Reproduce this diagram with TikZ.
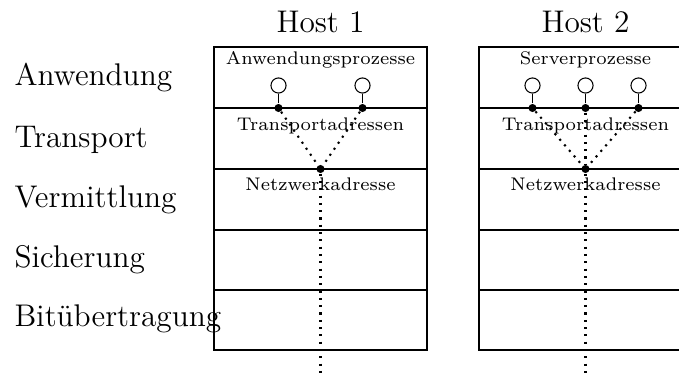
\documentclass[tikz,border=0pt]{standalone}
\begin{document}
\begin{tikzpicture}[x=0.383pt, y=-0.383pt, font=\large,
    proc/.style={circle, draw, fill=white, minimum size=5.8pt, inner sep=0pt},
    addr/.style={circle, fill, minimum size=3.1pt, inner sep=0pt},
    small/.style={font=\scriptsize, anchor=base, inner sep=0pt},
    link/.style={thick, dotted}]
  \useasboundingbox (0,0) rectangle (679,378);

  % Schichten links
  \foreach \name/\y/\id in {Anwendung/85.7/anw, Transport/147.7/tra, Vermittlung/207.5/ver,
                            Sicherung/267.3/sic, Bitübertragung/326.7/bit} {
    \node[anchor=base west, inner sep=0pt] (\id) at (14,\y) {\name};
  }

  % Hosts mit Schichtkasten
  \foreach \h/\xl/\proc in {1/214/Anwendungsprozesse, 2/479/Serverprozesse} {
    \pgfmathsetmacro\xc{\xl+106.5}
    \draw (\xl,47) rectangle ++(213,303);
    \foreach \y in {108,169,230,290}
      \draw (\xl,\y) -- ++(213,0);
    \node[anchor=base] (host\h) at (\xc,33) {Host \h};
    \node[small] (pl\h) at (\xc,65) {\proc};
    \node[small] (tl\h) at (\xc,130.7) {Transportadressen};
    \node[small] (nl\h) at (\xc,190.7) {Netzwerkadresse};
    % Netzwerkadresse und Weg nach unten
    \node[addr] (net\h) at (\xc,169) {};
    \coordinate (end\h) at (\xc,378);
    \draw[link] (net\h) -- (end\h);
  }

  % Prozesse und Transportadressen
  \foreach \h/\p/\x in {1/a/278.5, 1/b/362.5, 2/a/532.5, 2/b/585.5, 2/c/638.5} {
    \node[proc] (p\h\p) at (\x,85.5) {};
    \node[addr] (t\h\p) at (\x,108) {};
    \draw (p\h\p) -- (t\h\p);
    \draw[link] (t\h\p) -- (net\h);
  }
\end{tikzpicture}
\end{document}
